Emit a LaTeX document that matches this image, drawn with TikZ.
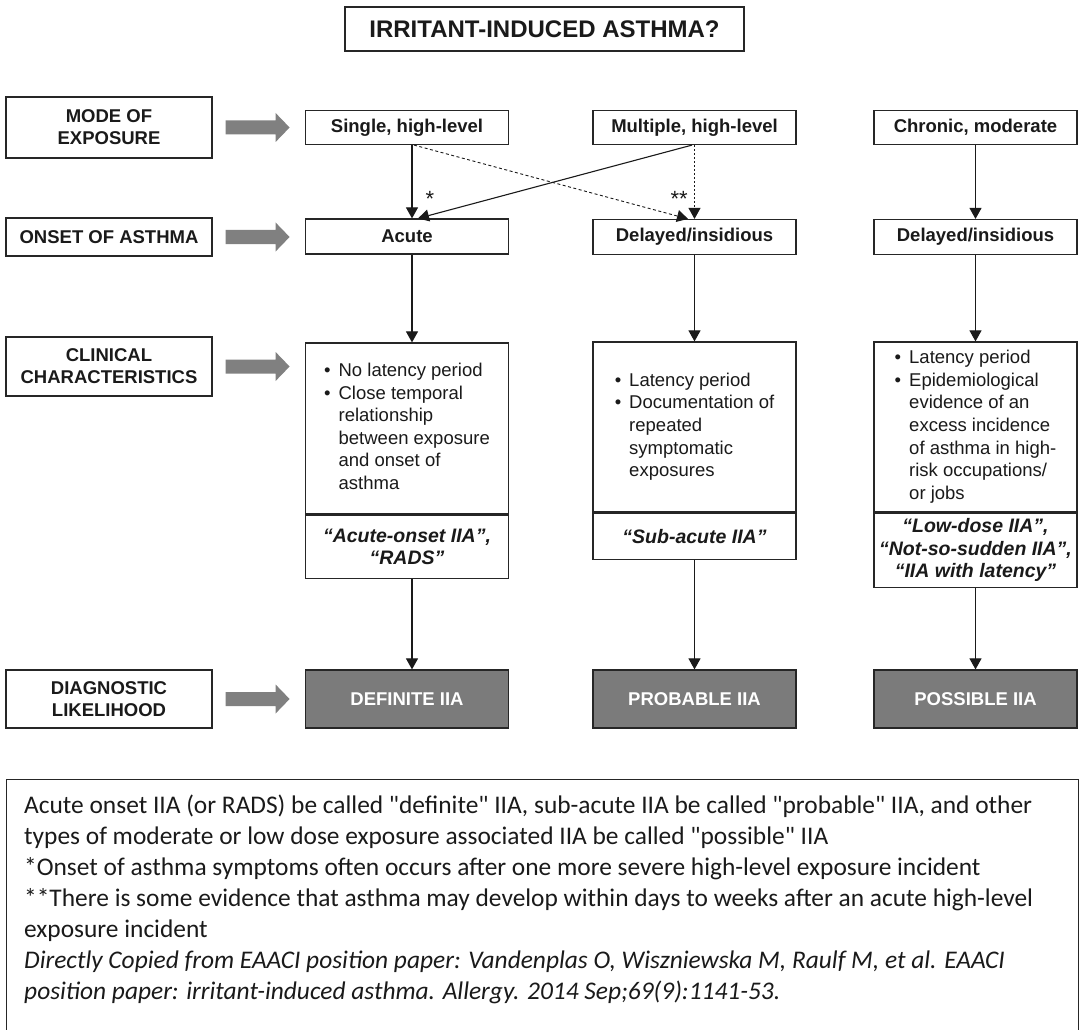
\documentclass[tikz,border=0pt]{standalone}
\usepackage{fontspec}
\setmainfont{Liberation Sans}
\newfontfamily\notefont{Carlito}
\usetikzlibrary{arrows.meta,calc}

\definecolor{edge}{HTML}{262626}
\definecolor{ink}{HTML}{1A1A1A}
\definecolor{blockgray}{HTML}{808080}
\definecolor{diaggray}{HTML}{7B7B7B}

\tikzset{
  basebox/.style={draw=edge, line width=1.2pt, fill=white, inner sep=0pt,
    align=center, text=ink, font=\fontsize{18.5}{22}\selectfont\bfseries},
  rowlabel/.style={basebox, minimum width=206pt},
  stagebox/.style={basebox, minimum width=203pt, minimum height=34pt},
  clinbox/.style={draw=edge, line width=1.2pt, fill=white, inner sep=0pt,
    minimum width=203pt, text=ink, font=\fontsize{18.5}{22.6}\selectfont},
  quotebox/.style={basebox, minimum width=203pt, anchor=north,
    font=\fontsize{19.5}{22.6}\selectfont\bfseries\itshape},
  diagbox/.style={basebox, fill=diaggray, text=white, minimum width=203pt,
    minimum height=58pt},
  flowline/.style={draw=ink, line width=1.1pt,
    -{Triangle[length=11pt,width=12pt]}},
  starmark/.style={text=ink, inner sep=0pt, font=\fontsize{22}{24}\selectfont},
}

% bullet list set in two columns: bullet, then text
\newcommand\bulletlist[1]{%
  \begin{tabular}{@{}l@{\hspace{8pt}}l@{}}#1\end{tabular}}

\begin{document}
\begin{tikzpicture}[x=1pt,y=-1pt]
\fill[white] (0,0) rectangle (1080,1030);
\useasboundingbox (0,0) rectangle (1080,1030);

% title
\node[basebox, font=\fontsize{24}{27}\selectfont\bfseries,
      minimum width=399pt, minimum height=44pt] (title) at (544.5,29)
      {IRRITANT-INDUCED ASTHMA?};

% row labels
\node[rowlabel, minimum height=61pt] (mode)   at (109,127.5) {MODE OF\\EXPOSURE};
\node[rowlabel, minimum height=38pt] (onset)  at (109,237)   {ONSET OF ASTHMA};
\node[rowlabel, minimum height=59pt] (clin)   at (109,366.5) {CLINICAL\\CHARACTERISTICS};
\node[rowlabel, minimum height=58pt] (likely) at (109,699)   {DIAGNOSTIC\\LIKELIHOOD};

% grey block arrows next to the row labels
\foreach \r in {mode,onset,clin,likely}{
  \fill[blockgray] ($(\r.east)+(13,-7)$) -- ++(50,0) -- ++(0,-7.5)
    -- ++(14,14.5) -- ++(-14,14.5) -- ++(0,-7.5) -- ++(-50,0) -- cycle;
}

% mode of exposure
\node[stagebox] (single)   at (407,127.5)   {Single, high-level};
\node[stagebox] (multiple) at (694.5,127.5) {Multiple, high-level};
\node[stagebox] (chronic)  at (975.5,127.5) {Chronic, moderate};

% onset of asthma
\node[stagebox, minimum height=35pt] (acute)    at (407,236.5)   {Acute};
\node[stagebox, minimum height=35pt] (delayedB) at (694.5,237)   {Delayed/insidious};
\node[stagebox, minimum height=35pt] (delayedC) at (975.5,237)   {Delayed/insidious};

% clinical characteristics
\node[clinbox, minimum height=171pt] (clinA) at (407,428.5) {\bulletlist{%
  \textbullet & No latency period\\
  \textbullet & Close temporal\\
  & relationship\\
  & between exposure\\
  & and onset of\\
  & asthma}};
\node[clinbox, minimum height=170pt] (clinB) at (694.5,427) {\bulletlist{%
  \textbullet & Latency period\\
  \textbullet & Documentation of\\
  & repeated\\
  & symptomatic\\
  & exposures}};
\node[clinbox, minimum height=170pt] (clinC) at (975.5,427) {\bulletlist{%
  \textbullet & Latency period\\
  \textbullet & Epidemiological\\
  & evidence of an\\
  & excess incidence\\
  & of asthma in high-\\
  & risk occupations/\\
  & or jobs}};

% names used for each form
\node[quotebox, minimum height=63pt] (quoteA) at (clinA.south)
  {“Acute-onset IIA”,\\“RADS”};
\node[quotebox, minimum height=46pt] (quoteB) at (clinB.south)
  {“Sub-acute IIA”};
\node[quotebox, minimum height=74pt] (quoteC) at (clinC.south)
  {“Low-dose IIA”,\\“Not-so-sudden IIA”,\\“IIA with latency”};

% diagnostic likelihood
\node[diagbox] (definite) at (407,699)   {DEFINITE IIA};
\node[diagbox] (probable) at (694.5,699) {PROBABLE IIA};
\node[diagbox] (possible) at (975.5,699) {POSSIBLE IIA};

% exposure -> onset
\draw[flowline] ([xshift=5pt]single.south) -- ([xshift=5pt]acute.north);
\draw[flowline] ([xshift=-2.5pt]multiple.south) -- ([xshift=11pt]acute.north);
\draw[flowline, line width=0.9pt, dash pattern=on 3pt off 2.5pt]
  ([xshift=7pt]single.south) -- ([xshift=-6.5pt]delayedB.north);
\draw[flowline, line width=0.9pt, dash pattern=on 2pt off 2pt]
  (multiple.south) -- (delayedB.north);
\draw[flowline] (chronic.south) -- (delayedC.north);
\node[starmark] (star1) at (430,199) {*};
\node[starmark, anchor=east] (star2) at (688,199) {**};

% onset -> clinical characteristics
\draw[flowline] ([xshift=5pt]acute.south) -- ([xshift=5pt]clinA.north);
\draw[flowline] (delayedB.south) -- (clinB.north);
\draw[flowline] (delayedC.south) -- (clinC.north);

% clinical characteristics -> likelihood
\draw[flowline] ([xshift=5pt]quoteA.south) -- ([xshift=5pt]definite.north);
\draw[flowline] (quoteB.south) -- (probable.north);
\draw[flowline] (quoteC.south) -- (possible.north);

% explanatory note
\node[draw=edge, line width=1.2pt, inner sep=0pt, minimum width=1072pt,
      minimum height=262pt, anchor=north west] (noteframe) at (6,779) {};
\node[anchor=north west, inner sep=0pt, align=left, text=ink,
      font=\notefont\fontsize{25.4}{31}\selectfont]
  (notetext) at ($(noteframe.north west)+(18,12.3)$)
  {\strut Acute onset IIA (or RADS) be called "definite" IIA, sub-acute IIA be called "probable" IIA, and other\\
   types of moderate or low dose exposure associated IIA be called "possible" IIA\\
   *Onset of asthma symptoms often occurs after one more severe high-level exposure incident\\
   **There is some evidence that asthma may develop within days to weeks after an acute high-level\\
   exposure incident\\
   \itshape Directly Copied from EAACI position paper: Vandenplas O, Wiszniewska M, Raulf M, et al. EAACI\\
   \itshape position paper: irritant-induced asthma. Allergy. 2014 Sep;69(9):1141-53.};
\end{tikzpicture}
\end{document}
